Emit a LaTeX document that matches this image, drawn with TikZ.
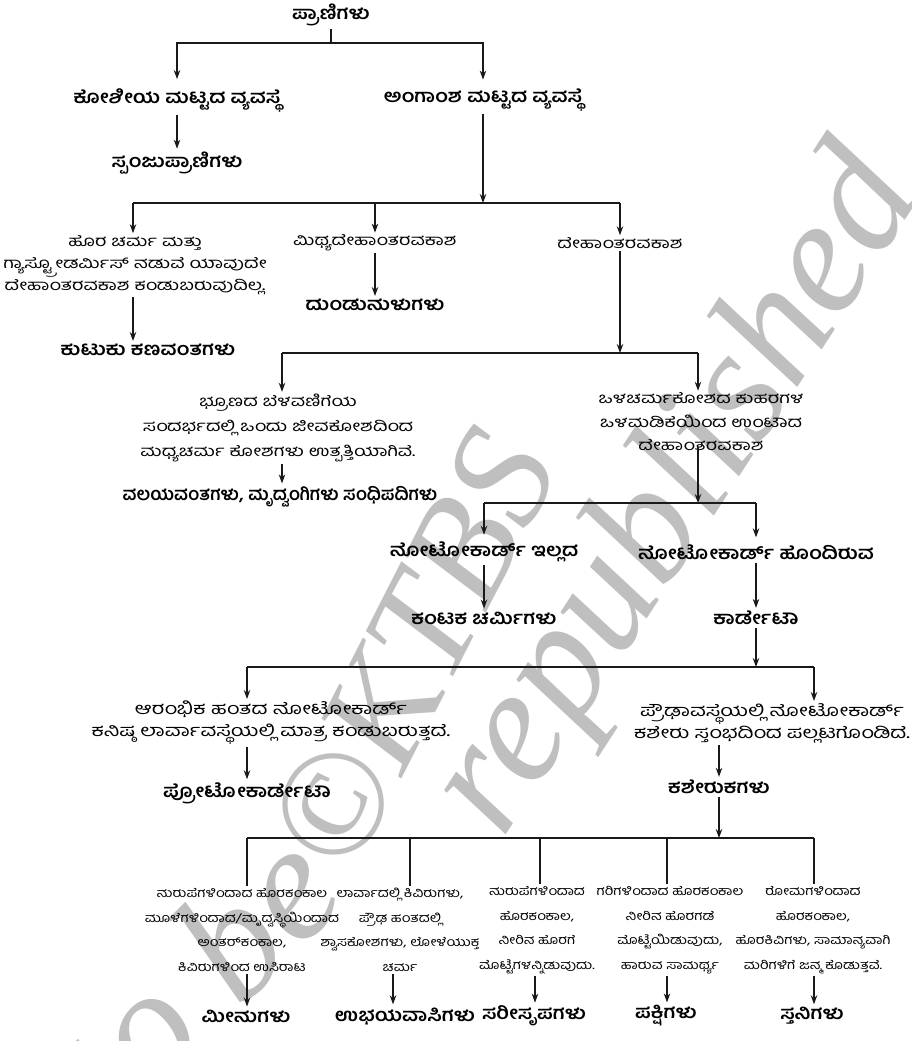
\documentclass[tikz,border=0pt]{standalone}
\usepackage{fontspec}
\newfontfamily\kn[Script=Kannada]{Hind Mysuru}
\newfontfamily\knl[Script=Kannada,FakeStretch=1.15]{Hind Mysuru}
\newfontfamily\knd[Script=Kannada,FakeStretch=1.32]{Hind Mysuru}
\newfontfamily\kns[Script=Kannada,FakeStretch=1.2]{Hind Mysuru}
\newfontfamily\wmfont{Liberation Serif}
\usetikzlibrary{arrows.meta}
\begin{document}
\begin{tikzpicture}[x=1pt,y=-1pt,
 lbl/.style={font=\knl\bfseries\fontsize{18}{21}\selectfont, inner sep=3pt},
 desc/.style={font=\knd\fontsize{15}{22}\selectfont, align=center, inner sep=2pt},
 sm/.style={font=\kns\fontsize{12.5}{24.5}\selectfont, align=center, inner sep=2pt},
 ln/.style={line width=1.1pt, black!90},
 arr/.style={ln, -{Stealth[length=9pt,width=6.5pt]}},
 wm/.style={text=black!25, font=\wmfont\itshape\fontsize{150}{150}\selectfont}]
\fill[white] (0,0) rectangle (912,1041);
\useasboundingbox (0,0) rectangle (912,1041);
% watermark
\begin{scope}
\clip (0,0) rectangle (912,1041);
\node[wm, rotate=63] (w1) at (412,650) {©KTBS};
\node[wm, rotate=45, font=\wmfont\itshape\fontsize{165}{165}\selectfont] (w2) at (195,975) {to be};
\node[wm, rotate=57, font=\wmfont\itshape\fontsize{165}{165}\selectfont] (w3) at (680,495) {republished};
\end{scope}
% level 0/1
\node[lbl] (p0) at (331,15) {ಪ್ರಾಣಿಗಳು};
\node[lbl] (a1) at (177,100) {ಕೋಶೀಯ ಮಟ್ಟದ ವ್ಯವಸ್ಥೆ};
\node[lbl] (a2) at (483,100) {ಅಂಗಾಂಶ ಮಟ್ಟದ ವ್ಯವಸ್ಥೆ};
\node[lbl] (a3) at (177,163) {ಸ್ಪಂಜುಪ್ರಾಣಿಗಳು};
\coordinate (j1) at (331,43);
\draw[ln] (p0.south) -- (j1);
\draw[arr, shorten >=6pt] (j1) -| (a1.north);
\draw[arr, shorten >=6pt] (j1) -| (a2.north);
\draw[arr] (a1.south) -- (a3.north);
% level 2
\coordinate (j2) at (483,203);
\coordinate (j2l) at (133,203);
\coordinate (j2m) at (375,203);
\coordinate (j2r) at (620,203);
\draw[arr] (a2.south) -- (j2);
\draw[ln] (j2l) -- (j2r);
\node[desc] (b1) at (135,265) {ಹೊರ ಚರ್ಮ ಮತ್ತು\\ಗ್ಯಾಸ್ಟ್ರೋಡರ್ಮಿಸ್ ನಡುವೆ ಯಾವುದೇ\\ದೇಹಾಂತರವಕಾಶ ಕಂಡುಬರುವುದಿಲ್ಲ.};
\node[desc] (b2) at (375,243) {ಮಿಥ್ಯದೇಹಾಂತರವಕಾಶ};
\node[desc] (b3) at (620,243) {ದೇಹಾಂತರವಕಾಶ};
\draw[arr] (j2l) -- (j2l |- b1.north);
\draw[arr] (j2m) -- (b2.north);
\draw[arr] (j2r) -- (b3.north);
\node[lbl] (b4) at (148,350) {ಕುಟುಕು ಕಣವಂತಗಳು};
\node[lbl] (b5) at (375,305) {ದುಂಡುಹುಳುಗಳು};
\draw[arr] (b1.south -| j2l) -- (j2l |- b4.north);
\draw[arr] (b2.south) -- (b5.north);
% level 3
\coordinate (j3) at (620,353);
\coordinate (j3l) at (282,353);
\coordinate (j3r) at (698,353);
\draw[arr] (b3.south) -- (j3);
\draw[ln] (j3l) -- (j3r);
\node[desc, font=\knd\fontsize{15}{25}\selectfont] (c1) at (278,428) {ಭ್ರೂಣದ ಬೆಳವಣಿಗೆಯ\\ಸಂದರ್ಭದಲ್ಲಿ ಒಂದು ಜೀವಕೋಶದಿಂದ\\ಮಧ್ಯಚರ್ಮ ಕೋಶಗಳು ಉತ್ಪತ್ತಿಯಾಗಿವೆ.};
\node[lbl, font=\kn\bfseries\fontsize{18}{21}\selectfont] (c2) at (280,497) {ವಲಯವಂತಗಳು, ಮೃದ್ವಂಗಿಗಳು ಸಂಧಿಪದಿಗಳು};
\node[desc, font=\knd\fontsize{15}{23.5}\selectfont] (c3) at (701,422) {ಒಳಚರ್ಮಕೋಶದ ಕುಹರಗಳ\\ಒಳಮಡಿಕೆಯಿಂದ ಉಂಟಾದ\\ದೇಹಾಂತರವಕಾಶ};
\draw[arr] (j3l) -- (j3l |- c1.north);
\draw[arr] (j3r) -- (j3r |- c3.north);
\draw[arr] (c1.south -| j3l) -- (c2.north -| j3l);
% level 4
\coordinate (j4) at (698,503);
\coordinate (j4l) at (484,503);
\coordinate (j4r) at (756,503);
\draw[arr] ([yshift=6pt]c3.south -| j4) -- (j4);
\draw[ln] (j4l) -- (j4r);
\node[lbl] (d1) at (484,552) {ನೋಟೋಕಾರ್ಡ್ ಇಲ್ಲದ};
\node[lbl] (d2) at (756,552) {ನೋಟೋಕಾರ್ಡ್ ಹೊಂದಿರುವ};
\draw[arr, shorten >=4pt] (j4l) -- (d1.north);
\draw[arr, shorten >=4pt] (j4r) -- (d2.north);
\node[lbl] (d3) at (484,618) {ಕಂಟಕ ಚರ್ಮಿಗಳು};
\node[lbl] (d4) at (756,618) {ಕಾರ್ಡೇಟಾ};
\draw[arr] (d1.south) -- (d3.north);
\draw[arr] (d2.south) -- (d4.north);
% level 5
\coordinate (j5) at (756,667);
\coordinate (j5l) at (247,667);
\coordinate (j5r) at (814,667);
\draw[arr] (d4.south) -- (j5);
\draw[ln] (j5l) -- (j5r);
\node[desc, font=\knd\fontsize{16.5}{22}\selectfont] (e1) at (271,723) {ಆರಂಭಿಕ ಹಂತದ ನೋಟೋಕಾರ್ಡ್\\ಕನಿಷ್ಠ ಲಾರ್ವಾವಸ್ಥೆಯಲ್ಲಿ ಮಾತ್ರ ಕಂಡುಬರುತ್ತದೆ.};
\node[desc, font=\knd\fontsize{16.5}{22}\selectfont] (e2) at (772,723) {ಪ್ರೌಢಾವಸ್ಥೆಯಲ್ಲಿ ನೋಟೋಕಾರ್ಡ್\\ಕಶೇರು ಸ್ತಂಭದಿಂದ ಪಲ್ಲಟಗೊಂಡಿದೆ.};
\draw[arr] (j5l) -- (j5l |- e1.north);
\draw[arr] (j5r) -- (j5r |- e2.north);
\node[lbl] (e3) at (247,793) {ಪ್ರೋಟೋಕಾರ್ಡೇಟಾ};
\node[lbl] (e4) at (719,787) {ಕಶೇರುಕಗಳು};
\draw[arr] (e1.south -| e3) -- (e3.north);
\draw[arr] (e2.south -| e4) -- (e4.north);
% level 6
\coordinate (j6) at (719,838);
\coordinate (j6a) at (247,838);
\coordinate (j6b) at (410,838);
\coordinate (j6c) at (540,838);
\coordinate (j6d) at (667,838);
\coordinate (j6e) at (814,838);
\draw[arr] (e4.south) -- (j6);
\draw[ln] (j6a) -- (j6e);
\node[sm] (f1) at (242,930) {ಹುರುಪೆಗಳಿಂದಾದ ಹೊರಕಂಕಾಲ\\ಮೂಳೆಗಳಿಂದಾದ/ಮೃದ್ವಸ್ಥಿಯಿಂದಾದ\\ಅಂತರ್‌ಕಂಕಾಲ,\\ಕಿವಿರುಗಳಿಂದ ಉಸಿರಾಟ};
\node[sm] (f2) at (400,930) {ಲಾರ್ವಾದಲ್ಲಿ ಕಿವಿರುಗಳು,\\ಪ್ರೌಢ ಹಂತದಲ್ಲಿ\\ಶ್ವಾಸಕೋಶಗಳು, ಲೋಳೆಯುಕ್ತ\\ಚರ್ಮ};
\node[sm] (f3) at (537,930) {ಹುರುಪೆಗಳಿಂದಾದ\\ಹೊರಕಂಕಾಲ,\\ನೀರಿನ ಹೊರಗೆ\\ಮೊಟ್ಟೆಗಳನ್ನಿಡುವುದು.};
\node[sm] (f4) at (670,930) {ಗರಿಗಳಿಂದಾದ ಹೊರಕಂಕಾಲ\\ನೀರಿನ ಹೊರಗಡೆ\\ಮೊಟ್ಟೆಯಿಡುವುದು,\\ಹಾರುವ ಸಾಮರ್ಥ್ಯ};
\node[sm] (f5) at (813,930) {ರೋಮಗಳಿಂದಾದ\\ಹೊರಕಂಕಾಲ,\\ಹೊರಕಿವಿಗಳು, ಸಾಮಾನ್ಯವಾಗಿ\\ಮರಿಗಳಿಗೆ ಜನ್ಮ ಕೊಡುತ್ತವೆ.};
\draw[ln] (j6a) -- (j6a |- f1.north);
\draw[ln] (j6b) -- (j6b |- f2.north);
\draw[ln] (j6c) -- (j6c |- f3.north);
\draw[ln] (j6d) -- (j6d |- f4.north);
\draw[ln] (j6e) -- (j6e |- f5.north);
\node[lbl] (g1) at (246,1016) {ಮೀನುಗಳು};
\node[lbl] (g2) at (405,1016) {ಉಭಯವಾಸಿಗಳು};
\node[lbl] (g3) at (534,1016) {ಸರೀಸೃಪಗಳು};
\node[lbl] (g4) at (666,1016) {ಪಕ್ಷಿಗಳು};
\node[lbl] (g5) at (812,1016) {ಸ್ತನಿಗಳು};
\draw[arr] (f1.south -| j6a) -- (g1.north -| j6a);
\draw[arr] ([xshift=-7pt]f2.south) -- ([xshift=-12pt]g2.north);
\draw[arr] ([xshift=-2pt]f3.south) -- ([xshift=1pt]g3.north);
\draw[arr] (f4.south -| j6d) -- (g4.north -| j6d);
\draw[arr] (f5.south -| j6e) -- (g5.north -| j6e);
\end{tikzpicture}
\end{document}
